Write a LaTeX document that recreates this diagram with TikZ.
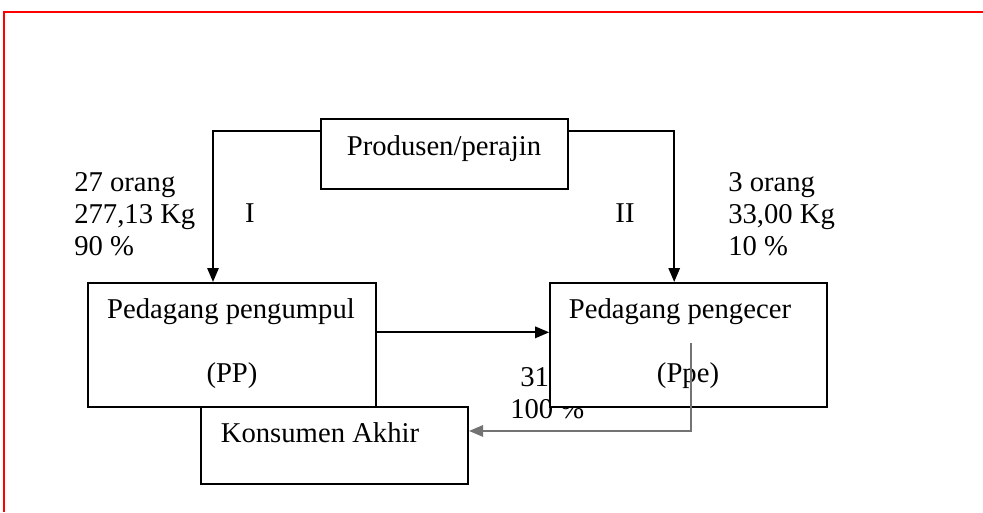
\documentclass[tikz,border=0pt]{standalone}
\usepackage{fontspec}
\setmainfont{Liberation Serif}
\usepackage{xcolor}
\usetikzlibrary{arrows.meta}

\begin{document}
\begin{tikzpicture}[x=0.75pt, y=-0.75pt,
	every node/.style={font=\fontsize{21.5}{23.8}\selectfont},
	box/.style={draw, fill=white, line width=1.5pt, inner sep=0pt},
	txt/.style={inner sep=0pt},
	flow/.style={-{Triangle[length=10.5pt,width=8.5pt]}, line width=1.5pt}]
	\useasboundingbox (0,0) rectangle (983,512);
	\draw[red, line width=1.8pt] (983,12) -- (4,12) -- (4,512);
	
	% labels partly under the Ppe box
	\node[txt, anchor=base west] (jml) at (520,386) {31};
	\node[txt, anchor=base west] (pct) at (510,418) {100 \%};
	
	\node[box, minimum width=185.25pt, minimum height=52.5pt] (prod) at (444.5,154) {};
	\node[box, minimum width=216pt, minimum height=93pt] (pp) at (232,345) {};
	\node[box, minimum width=207.75pt, minimum height=93pt] (ppe) at (688.7,345) {};
	\node[box, minimum width=200.25pt, minimum height=57.75pt] (kons) at (334.5,445.5) {};
	
	\node[txt, anchor=base] (prodname) at (444,155) {Produsen/perajin};
	\node[txt, anchor=base] (ppname) at (231,318) {Pedagang pengumpul};
	\node[txt, anchor=base] (ppabbr) at (232,382) {(PP)};
	\node[txt, anchor=base] (ppename) at (680,318) {Pedagang pengecer};
	\node[txt, anchor=base] (ppeabbr) at (688,382) {(Ppe)};
	\node[txt, anchor=base] (konsname) at (320,442) {Konsumen Akhir};
	
	\node[txt, anchor=north west, align=left] (jalur1) at (74,172.5) {27 orang\\277,13 Kg\\90 \%};
	\node[txt, anchor=north west, align=left] (jalur2) at (728,172.5) {3 orang\\33,00 Kg\\10 \%};
	\node[txt, anchor=base] (no1) at (250,222) {I};
	\node[txt, anchor=base] (no2) at (625,222) {II};
	
	\draw[flow] ([yshift=-9.75pt]prod.north west) -| ([xshift=94.5pt]pp.north west);
	\draw[flow] ([yshift=-9.75pt]prod.north east) -| ([xshift=93.75pt]ppe.north west);
	\draw[flow] ([yshift=9.5pt]pp.east) -- ([yshift=9.5pt]ppe.west);
	\draw[flow, black!55] ([xshift=1.7pt, yshift=1.5pt]ppe.center) |- ([yshift=10.9pt]kons.east);
\end{tikzpicture}
\end{document}
